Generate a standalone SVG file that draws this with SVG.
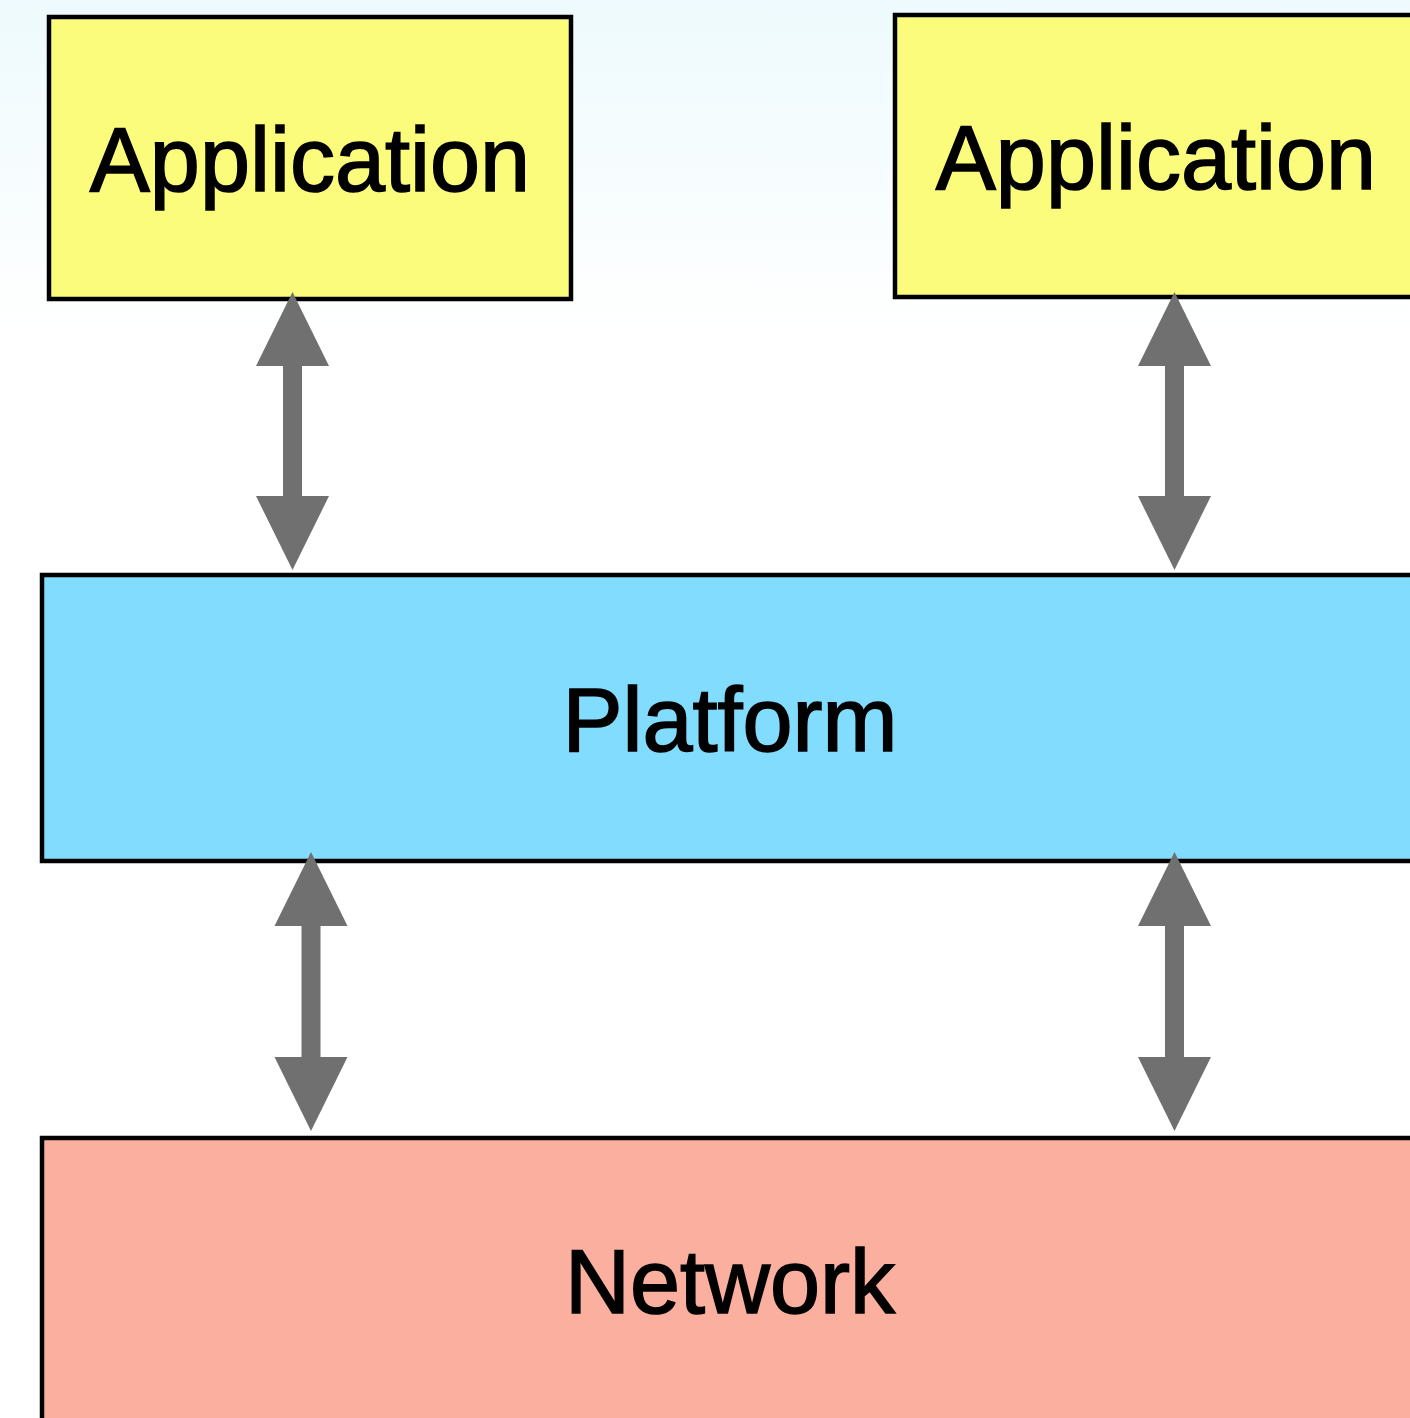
<svg xmlns="http://www.w3.org/2000/svg" width="1410" height="1418" viewBox="0 0 1410 1418">
  <defs>
    <linearGradient id="sky" x1="0" y1="0" x2="0" y2="1">
      <stop offset="0" stop-color="#eefafd"/>
      <stop offset="1" stop-color="#ffffff"/>
    </linearGradient>
    <marker id="head" markerUnits="userSpaceOnUse" viewBox="-2 -37 75 74" markerWidth="75" markerHeight="74" refX="0" refY="0" orient="auto-start-reverse" overflow="visible">
      <path d="M-1,-36.5 L73,0 L-1,36.5 Z" fill="#707070"/>
    </marker>
  </defs>
  <style>
    .box { stroke: #000; stroke-width: 4.5; }
    .app { fill: #fbfc7c; }
    .plat { fill: #82dcfd; }
    .net { fill: #fbaf9e; }
    .label { font-family: "Liberation Sans", Arial, Helvetica, sans-serif; font-size: 90px; fill: #000; stroke: #000; stroke-width: 1.6; text-anchor: middle; }
    .link { stroke: #707070; stroke-width: 19; fill: none; marker-start: url(#head); marker-end: url(#head); }
  </style>

  <rect x="0" y="0" width="1410" height="340" fill="url(#sky)"/>
  <rect x="0" y="340" width="1410" height="1078" fill="#ffffff"/>

  <g id="app-left">
    <rect class="box app" x="49" y="17" width="522" height="282"/>
    <text class="label" x="310" y="191">Application</text>
  </g>
  <g id="app-right">
    <rect class="box app" x="895" y="15" width="522" height="282"/>
    <text class="label" x="1156" y="189">Application</text>
  </g>
  <g id="platform">
    <rect class="box plat" x="42" y="575" width="1378" height="286"/>
    <text class="label" x="730" y="751">Platform</text>
  </g>
  <g id="network">
    <rect class="box net" x="42" y="1138" width="1378" height="300"/>
    <text class="label" x="730" y="1313">Network</text>
  </g>

  <g id="connectors">
    <line class="link" x1="292.5" y1="365" x2="292.5" y2="497"/>
    <line class="link" x1="1174.5" y1="365" x2="1174.5" y2="497"/>
    <line class="link" x1="311" y1="925" x2="311" y2="1058"/>
    <line class="link" x1="1174.5" y1="925" x2="1174.5" y2="1058"/>
  </g>
</svg>
